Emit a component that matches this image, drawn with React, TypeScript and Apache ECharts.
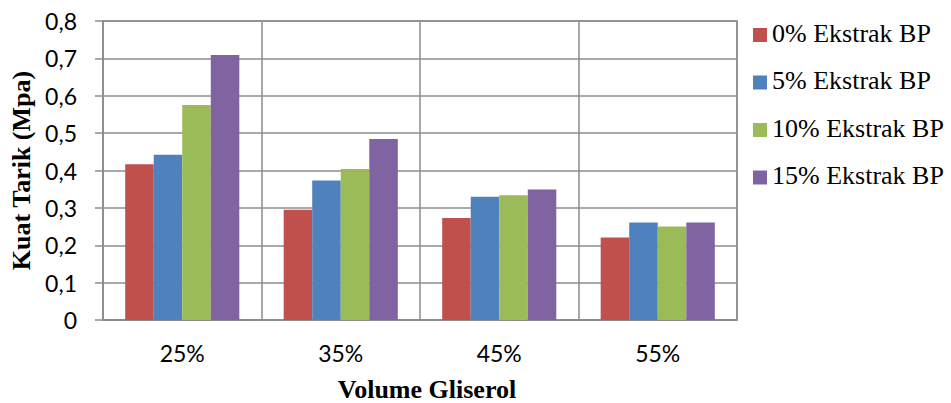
import React, { useEffect, useRef } from "react";
import * as echarts from "echarts";

const categories = ["25%", "35%", "45%", "55%"];
const seriesNames = ["0% Ekstrak BP", "5% Ekstrak BP", "10% Ekstrak BP", "15% Ekstrak BP"];
const ekstrak0 = [0.417, 0.295, 0.273, 0.221];
const ekstrak5 = [0.442, 0.373, 0.33, 0.261];
const ekstrak10 = [0.575, 0.404, 0.334, 0.25];
const ekstrak15 = [0.709, 0.484, 0.349, 0.261];
const colors = ["#C0504D", "#4F81BD", "#9BBB59", "#8064A2"];

const GRID = "#8c8c8c";

export default function App() {
  const ref = useRef<HTMLDivElement>(null);
  useEffect(() => {
    if (!ref.current) return;
    const chart = echarts.init(ref.current, null, { renderer: "svg" });
    const values = [ekstrak0, ekstrak5, ekstrak10, ekstrak15];
    chart.setOption({
      animation: false,
      backgroundColor: "#ffffff",
      grid: {
        left: 103,
        right: 214,
        top: 21,
        bottom: 83,
        show: true,
        borderColor: GRID,
        borderWidth: 1.5,
        containLabel: false,
        outerBoundsMode: "none",
      },
      legend: {
        orient: "vertical",
        left: 748,
        top: 15,
        icon: "rect",
        itemWidth: 14,
        itemHeight: 14,
        itemGap: 17,
        formatter: (name: string) => `{t|${name}}\n{s|}`,
        textStyle: {
          fontFamily: "Liberation Serif",
          fontSize: 26,
          color: "#000",
          rich: {
            t: {
              fontFamily: "Liberation Serif",
              fontSize: 26,
              color: "#000",
              lineHeight: 27,
            },
            s: { fontSize: 4, lineHeight: 4 },
          },
        },
        data: seriesNames,
      },
      xAxis: {
        type: "category",
        data: categories,
        name: "Volume Gliserol",
        nameLocation: "middle",
        nameGap: 56,
        nameTextStyle: {
          fontFamily: "Liberation Serif",
          fontWeight: "bold",
          fontSize: 26,
          lineHeight: 26,
          color: "#000",
          padding: [0, 0, 0, 14],
        },
        axisLine: { show: true, lineStyle: { color: GRID, width: 1.5 } },
        axisTick: { show: false },
        axisLabel: {
          fontFamily: "Lato",
          fontSize: 23,
          color: "#000",
          margin: 21,
        },
        splitLine: { show: true, interval: 0, lineStyle: { color: GRID, width: 1.5 } },
      },
      yAxis: {
        type: "value",
        min: 0,
        max: 0.8,
        interval: 0.1,
        name: "Kuat Tarik (Mpa)",
        nameLocation: "middle",
        nameGap: 68,
        nameTextStyle: {
          fontFamily: "Liberation Serif",
          fontWeight: "bold",
          fontSize: 26,
          color: "#000",
        },
        axisLine: { show: true, lineStyle: { color: GRID, width: 1.5 } },
        axisTick: { show: true, length: 8, lineStyle: { color: GRID, width: 1.5 } },
        axisLabel: {
          fontFamily: "Lato",
          fontSize: 23,
          color: "#000",
          margin: 26,
          formatter: (v: number) => (Math.round(v * 10) / 10).toString().replace(".", ","),
        },
        splitLine: { show: true, lineStyle: { color: GRID, width: 1.5 } },
      },
      series: values.map((d, i) => ({
        name: seriesNames[i],
        type: "bar",
        data: d,
        barGap: "0%",
        barCategoryGap: "28%",
        itemStyle: { color: colors[i] },
      })),
    });
    return () => chart.dispose();
  }, []);
  return (
    <div
      ref={ref}
      style={{ position: "absolute", left: 0, top: 0, width: 951, height: 403 }}
    />
  );
}
